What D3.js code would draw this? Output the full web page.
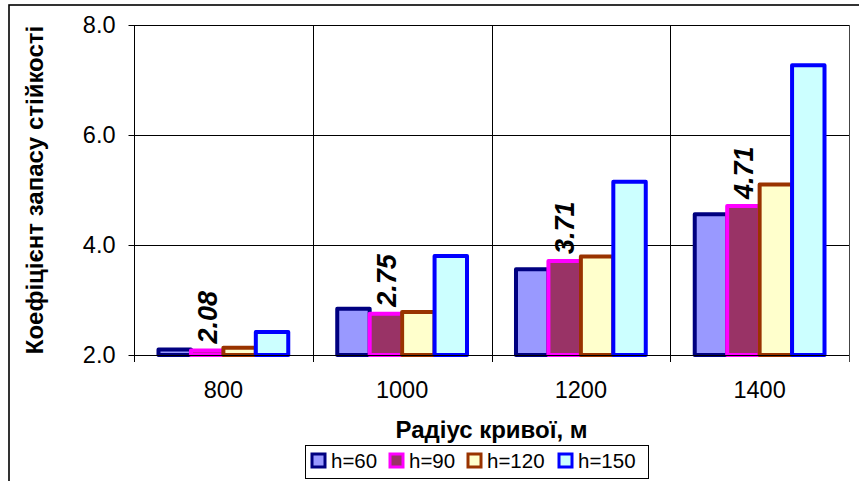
<!DOCTYPE html>
<html>
<head>
<meta charset="utf-8">
<script src="https://cdn.jsdelivr.net/npm/d3@7"></script>
<style>
  html, body { margin: 0; padding: 0; background: #fff; }
  svg { display: block; font-family: "Liberation Sans", Arial, sans-serif; }
</style>
</head>
<body>
<svg id="chart" width="859" height="481"></svg>
<script>
// Chart data
const categories = ["800", "1000", "1200", "1400"];
const seriesNames = ["h=60", "h=90", "h=120", "h=150"];
const h60 = [2.10, 2.84, 3.56, 4.56];
const h90 = [2.08, 2.75, 3.71, 4.71];
const h120 = [2.13, 2.78, 3.79, 5.10];
const h150 = [2.42, 3.80, 5.15, 7.27];
const yTicks = [2, 4, 6, 8];
const labelledSeries = 1; // values printed above the h=90 bars

const seriesValues = [h60, h90, h120, h150];
const fills = ["#9999FF", "#993366", "#FFFFCC", "#CCFFFF"];
const strokes = ["#000080", "#FF00FF", "#993300", "#0000FF"];

const svg = d3.select("#chart");
const plot = { left: 134, right: 849, top: 25, bottom: 355 };

// Outer chart frame (right and bottom edges fall outside the canvas)
svg.append("rect")
  .attr("x", 9).attr("y", 5).attr("width", 900).attr("height", 500)
  .attr("fill", "none").attr("stroke", "#000").attr("stroke-width", 1.6);

const x0 = d3.scaleBand().domain(categories).range([plot.left, plot.right]).padding(0);
const bw = x0.bandwidth();
const x1 = d3.scaleBand().domain(d3.range(seriesNames.length))
  .range([bw * 0.137, bw * 0.863]).padding(0);
const y = d3.scaleLinear().domain([2, 8]).range([plot.bottom, plot.top]);

// Gridlines
const grid = svg.append("g").attr("stroke", "#000").attr("stroke-width", 1).attr("shape-rendering", "crispEdges");
yTicks.filter(t => t > 2).forEach(t => {
  grid.append("line").attr("x1", plot.left).attr("x2", plot.right)
    .attr("y1", Math.round(y(t)) + 0.5).attr("y2", Math.round(y(t)) + 0.5);
});
categories.slice(1).forEach(c => {
  const gx = Math.round(x0(c)) + 0.5;
  grid.append("line").attr("x1", gx).attr("x2", gx).attr("y1", plot.top).attr("y2", plot.bottom + 7);
});
// plot area right edge
grid.append("line").attr("x1", plot.right + 0.5).attr("x2", plot.right + 0.5)
  .attr("y1", plot.top).attr("y2", plot.bottom + 7).attr("stroke", "#444");

// Bars
const groups = svg.append("g").selectAll("g").data(categories).join("g")
  .attr("transform", d => `translate(${x0(d)},0)`);
groups.each(function(cat, ci) {
  const g = d3.select(this);
  seriesValues.forEach((vals, si) => {
    g.append("rect")
      .attr("x", x1(si))
      .attr("y", y(vals[ci]))
      .attr("width", x1.bandwidth())
      .attr("height", y(2) - y(vals[ci]))
      .attr("fill", fills[si])
      .attr("stroke", strokes[si])
      .attr("stroke-width", 4)
      .attr("stroke-linejoin", "round");
  });
});

// Value labels on the h=90 series
svg.append("g").selectAll("text").data(categories).join("text")
  .attr("transform", (d, i) => {
    const cx = x0(d) + x1(labelledSeries) + x1.bandwidth() / 2;
    return `translate(${cx},${y(seriesValues[labelledSeries][i]) - 7}) rotate(-90)`;
  })
  .attr("dy", "0.36em")
  .attr("text-anchor", "start")
  .attr("font-size", 27).attr("font-weight", "bold").attr("font-style", "italic")
  .attr("fill", "#000")
  .text((d, i) => d3.format(".2f")(seriesValues[labelledSeries][i]));

// Y axis
const yAxis = svg.append("g")
  .attr("transform", `translate(${plot.left + 0.5},0)`)
  .call(d3.axisLeft(y).tickValues(yTicks).tickFormat(d3.format(".1f")).tickSize(6).tickPadding(13));
yAxis.select(".domain").attr("stroke", "#000").attr("d", `M0,${plot.top}V${plot.bottom + 7}`);
yAxis.selectAll(".tick line").attr("stroke", "#000");
yAxis.selectAll(".tick text").attr("font-size", 23.5).attr("font-family", "Liberation Sans, Arial, sans-serif").attr("fill", "#000");

// X axis
const xAxis = svg.append("g")
  .attr("transform", `translate(0,${plot.bottom + 0.5})`)
  .call(d3.axisBottom(x0).tickSize(0).tickPadding(26));
xAxis.select(".domain").attr("stroke", "#000").attr("d", `M${plot.left},0H${plot.right}`);
xAxis.selectAll(".tick text").attr("font-size", 23.5).attr("font-family", "Liberation Sans, Arial, sans-serif").attr("fill", "#000");

// Axis titles
svg.append("text")
  .attr("transform", `translate(43,${(plot.top + plot.bottom) / 2}) rotate(-90)`)
  .attr("text-anchor", "middle")
  .attr("font-size", 24).attr("font-weight", "bold")
  .text("Коефіцієнт запасу стійкості");
svg.append("text")
  .attr("x", (plot.left + plot.right) / 2).attr("y", 438)
  .attr("text-anchor", "middle")
  .attr("font-size", 24).attr("font-weight", "bold")
  .text("Радіус кривої, м");

// Legend
const legend = svg.append("g");
legend.append("rect").attr("x", 305.5).attr("y", 445.5).attr("width", 343).attr("height", 33)
  .attr("fill", "#fff").attr("stroke", "#000").attr("stroke-width", 1);
const swatchX = [312, 390, 468, 559];
seriesNames.forEach((name, i) => {
  legend.append("rect")
    .attr("x", swatchX[i]).attr("y", 454).attr("width", 13).attr("height", 13)
    .attr("fill", fills[i]).attr("stroke", strokes[i]).attr("stroke-width", 3);
  legend.append("text")
    .attr("x", swatchX[i] + 19).attr("y", 468)
    .attr("font-size", 20.5)
    .text(name);
});
</script>
</body>
</html>
